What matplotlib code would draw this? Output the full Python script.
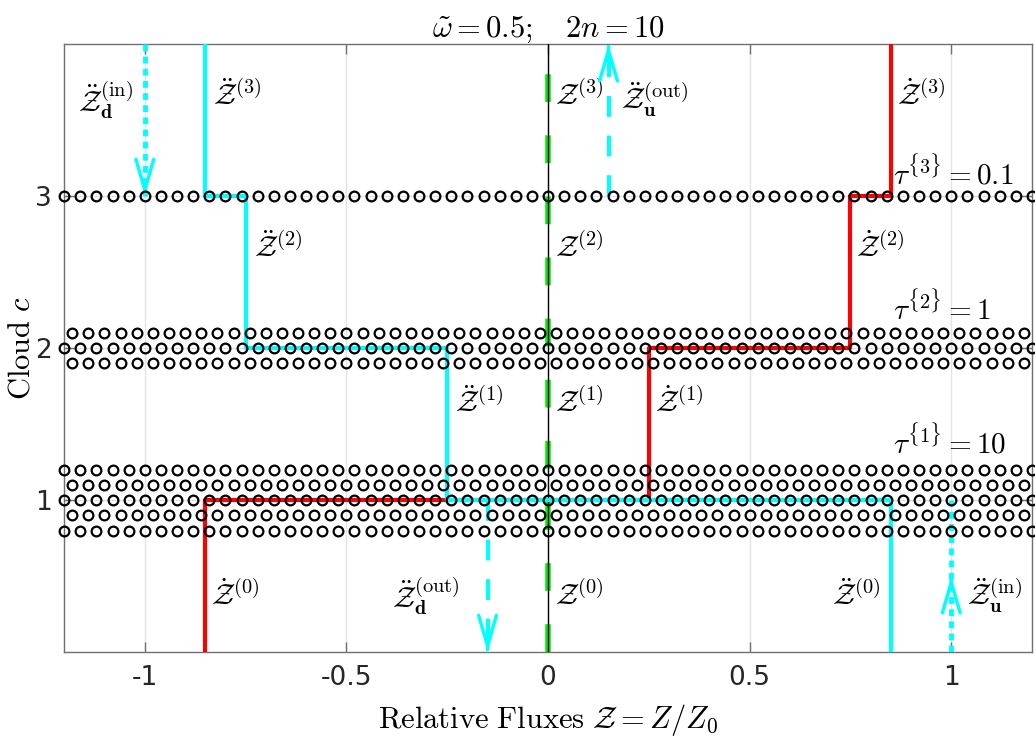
import numpy as np
import matplotlib.pyplot as plt

plt.rcParams['mathtext.fontset'] = 'cm'

# cloud layers, optical depths and number of sub-rows in each band
clouds = [1, 2, 3]
tau_labels = ['10', '1', '0.1']
band_rows = [5, 3, 1]
row_step = 0.1

# level boundaries 0..4 and the relative fluxes between them (levels 0..3)
levels = [0, 1, 2, 3, 4]
z_dot = [-0.85, 0.25, 0.75, 0.85]
z_ddot = [0.85, -0.25, -0.75, -0.85]
z_net = [0.0, 0.0, 0.0, 0.0]

# boundary fluxes: (x, y_from, y_to, y_head, style, label)
bnd_x = [-1.0, 0.15, -0.15, 1.0]
bnd_from = [4, 3, 1, 0]
bnd_to = [3, 4, 0, 1]
bnd_head = [3, 4, 0, 0.5]
bnd_style = ['dot', 'dash', 'dash', 'dot']
bnd_text = [r'$\ddot{\mathcal{Z}}_{\mathbf{d}}^{(\mathrm{in})}$',
            r'$\ddot{\mathcal{Z}}_{\mathbf{u}}^{(\mathrm{out})}$',
            r'$\ddot{\mathcal{Z}}_{\mathbf{d}}^{(\mathrm{out})}$',
            r'$\ddot{\mathcal{Z}}_{\mathbf{u}}^{(\mathrm{in})}$']

x_ticks = [-1, -0.5, 0, 0.5, 1]
x_ticklabels = ['-1', '-0.5', '0', '0.5', '1']
y_ticks = [1, 2, 3]

fig = plt.figure(figsize=(10.35, 7.47), dpi=100)
ax = fig.add_axes([0.062, 0.127, 0.935, 0.814])
ax.set_xlim(-1.2, 1.2)
ax.set_ylim(0, 4)

ax.grid(True, color='#e3e3e3', lw=1)
ax.set_axisbelow(True)

# step profiles through the levels
y_step = np.repeat(levels, 2)[1:-1]
ax.axvline(0, color='#00f000', lw=4, dashes=(5, 6), zorder=2)
ax.plot(np.repeat(z_net, 2), y_step, color='k', lw=1.0, zorder=3)
ax.plot(np.repeat(z_dot, 2), y_step, color='red', lw=3, zorder=3)
ax.plot(np.repeat(z_ddot, 2), y_step, color='cyan', lw=3, zorder=4)

# boundary fluxes with open arrow heads
for x, y0, y1, yh, st in zip(bnd_x, bnd_from, bnd_to, bnd_head, bnd_style):
    if st == 'dot':
        ax.plot([x, x], [y0, y1], color='cyan', lw=3.5, dashes=(1.4, 1.1),
                solid_capstyle='butt', dash_capstyle='butt', zorder=4)
    else:
        ax.plot([x, x], [y0, y1], color='cyan', lw=3, dashes=(5, 4.5), zorder=4)
    sgn = np.sign(y1 - y0)
    ax.annotate('', xy=(x, yh), xytext=(x, yh - sgn * 0.02),
                arrowprops=dict(arrowstyle='->,head_length=1.1,head_width=0.32',
                                color='cyan', lw=2.5, mutation_scale=20,
                                shrinkA=0, shrinkB=0), zorder=5)

# cloud bands as rows of open circles
x_full = np.arange(-1.2, 1.2001, 0.04)
for c, nr in zip(clouds, band_rows):
    half = (nr - 1) // 2
    for k in range(-half, half + 1):
        xs = x_full if k % 2 == 0 else x_full[:-1] + 0.02
        ax.plot(xs, np.full(len(xs), c + k * row_step), 'o', ms=7, mfc='none',
                mec='k', mew=1.6, zorder=6, clip_on=False)

# optical depth labels
tau_y = [1.38, 2.26, 3.15]
for c, t, ty in zip(clouds, tau_labels, tau_y):
    ax.text(0.855, ty, r'$\tau^{\{%d\}} = %s$' % (c, t), fontsize=21,
            va='center', ha='left')

# flux labels for each level
lab_y = [0.37, 1.64, 2.66, 3.66]
fs = 21
for i, ly in enumerate(lab_y):
    ax.text(z_dot[i] + 0.015, ly, r'$\dot{\mathcal{Z}}^{(%d)}$' % i,
            fontsize=fs, va='center', ha='left')
    ax.text(z_net[i] + 0.018, ly, r'$\mathcal{Z}^{(%d)}$' % i,
            fontsize=fs, va='center', ha='left')
    if i == 0:
        ax.text(z_ddot[i] - 0.025, ly, r'$\ddot{\mathcal{Z}}^{(%d)}$' % i,
                fontsize=fs, va='center', ha='right')
    else:
        ax.text(z_ddot[i] + 0.02, ly, r'$\ddot{\mathcal{Z}}^{(%d)}$' % i,
                fontsize=fs, va='center', ha='left')

# boundary flux labels
bnd_lab = [(-1.03, 3.63, 'right'), (0.18, 3.63, 'left'),
           (-0.22, 0.37, 'right'), (1.04, 0.37, 'left')]
for (lx, ly, ha), txt in zip(bnd_lab, bnd_text):
    ax.text(lx, ly, txt, fontsize=fs, va='center', ha=ha)

ax.set_xticks(x_ticks)
ax.set_xticklabels(x_ticklabels)
ax.set_yticks(y_ticks)
ax.tick_params(direction='in', length=7, top=True, right=True, width=1,
               colors='#707070', labelcolor='#262626', labelsize=19, pad=9)
for sp in ax.spines.values():
    sp.set_color('#707070')
    sp.set_linewidth(1)

ax.set_xlabel(r'$\mathrm{Relative\ Fluxes}\ \mathcal{Z} = Z/Z_0$', fontsize=22,
              labelpad=8)
ax.set_ylabel(r'$\mathrm{Cloud}\ c$', fontsize=22)
ax.yaxis.set_label_coords(-0.03, 0.5)
ax.set_title(r'$\tilde{\omega} = 0.5;\quad 2n = 10$', fontsize=22, pad=5)

fig.savefig('out.png', dpi=100)
